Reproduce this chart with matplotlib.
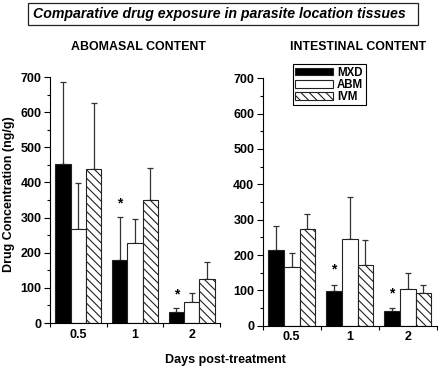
import matplotlib
matplotlib.use("Agg")
import matplotlib.pyplot as plt
import matplotlib.patches as mpatches
from matplotlib.ticker import MultipleLocator, FixedLocator, FixedFormatter
import numpy as np

plt.rcParams['font.family'] = ['Liberation Sans', 'DejaVu Sans']
plt.rcParams['hatch.linewidth'] = 0.8

days = ["0.5", "1", "2"]
series = ["MXD", "ABM", "IVM"]

# Abomasal content (mean, upper SD)
abo_mxd = [452, 180, 31]
abo_abm = [268, 227, 61]
abo_ivm = [438, 351, 125]
abo_mxd_sd = [235, 123, 12]
abo_abm_sd = [129, 70, 23]
abo_ivm_sd = [187, 90, 50]

# Intestinal content
int_mxd = [213, 98, 43]
int_abm = [165, 246, 104]
int_ivm = [273, 173, 93]
int_mxd_sd = [68, 16, 7]
int_abm_sd = [40, 119, 44]
int_ivm_sd = [43, 70, 21]

# significance markers (day index, y position)
abo_star_days = [1, 2]
abo_star_y = [340, 82]
int_star_days = [1, 2]
int_star_y = [160, 91]

W, H = 438, 369
fig = plt.figure(figsize=(W / 100, H / 100), dpi=100)

def fx(px):
    return px / W

def fy(py):
    return 1 - py / H

styles = [dict(facecolor='black', hatch=None),
          dict(facecolor='white', hatch=None),
          dict(facecolor='white', hatch='\\\\\\\\')]

def panel(rect, means, sds, star_days, star_y):
    ax = fig.add_axes(rect)
    x = np.arange(len(days)) + 0.5
    w = 0.27
    handles = []
    for k, (m, s) in enumerate(zip(means, sds)):
        pos = x + (k - 1) * w
        b = ax.bar(pos, m, width=w, edgecolor='#222222', linewidth=0.8,
                   label=series[k], zorder=2, **styles[k])
        handles.append(b)
        ax.errorbar(pos, m, yerr=[np.zeros(len(s)), s], fmt='none',
                    ecolor='#333333', elinewidth=0.9, capsize=2, capthick=0.9, zorder=1)
    for d, yv in zip(star_days, star_y):
        ax.text(x[d] - w, yv, '*', ha='center', va='center', fontsize=10,
                fontweight='bold')
    ax.set_xlim(0, 3)
    ax.set_ylim(0, 700)
    ax.spines['top'].set_visible(False)
    ax.spines['right'].set_visible(False)
    ax.yaxis.set_major_locator(MultipleLocator(100))
    ax.yaxis.set_minor_locator(MultipleLocator(50))
    ax.xaxis.set_major_locator(FixedLocator([0.5, 1.5, 2.5]))
    ax.xaxis.set_major_formatter(FixedFormatter(days))
    ax.xaxis.set_minor_locator(FixedLocator([0, 1, 2, 3]))
    ax.tick_params(axis='x', which='major', length=0, pad=4, labelsize=9)
    ax.tick_params(axis='x', which='minor', length=3, width=0.8)
    ax.tick_params(axis='y', which='major', length=4, width=0.8, labelsize=9, pad=2)
    ax.tick_params(axis='y', which='minor', length=2.5, width=0.8)
    for lab in ax.get_xticklabels() + ax.get_yticklabels():
        lab.set_fontweight('bold')
    return ax, handles

axL, hL = panel([fx(50), fy(323), fx(170), fy(77) - fy(323)],
                [abo_mxd, abo_abm, abo_ivm], [abo_mxd_sd, abo_abm_sd, abo_ivm_sd],
                abo_star_days, abo_star_y)
axR, hR = panel([fx(262.7), fy(325.7), fx(174), fy(78.3) - fy(325.7)],
                [int_mxd, int_abm, int_ivm], [int_mxd_sd, int_abm_sd, int_ivm_sd],
                int_star_days, int_star_y)

fig.text(fx(138), fy(47), "ABOMASAL CONTENT", ha='center', va='center',
         fontsize=8.9, fontweight='bold')
fig.text(fx(358), fy(47), "INTESTINAL CONTENT", ha='center', va='center',
         fontsize=8.9, fontweight='bold')

fig.text(fx(9), fy(194), "Drug Concentration (ng/g)", rotation=90, ha='center',
         va='center', fontsize=9, fontweight='bold')
fig.text(fx(225), fy(360), "Days post-treatment", ha='center', va='center',
         fontsize=9, fontweight='bold')

leg = axR.legend(handles=hR, loc='upper left',
                 bbox_to_anchor=(fx(292.7), fy(64.3)), bbox_transform=fig.transFigure,
                 prop={'weight': 'bold', 'size': 8.3}, frameon=True, fancybox=False,
                 edgecolor='black', framealpha=1, borderpad=0.2, labelspacing=0.02,
                 handlelength=3.3, handleheight=0.62, handletextpad=0.35, borderaxespad=0)
leg.get_frame().set_linewidth(0.8)

# title box
fig.patches.append(mpatches.Rectangle((fx(28), fy(25)), fx(390), fy(3) - fy(25),
                                      transform=fig.transFigure, facecolor='white',
                                      edgecolor='#222222', linewidth=0.9))
fig.text(fx(219), fy(14), "Comparative drug exposure in parasite location tissues",
         ha='center', va='center', fontsize=10.2, fontweight='bold', style='italic')

fig.savefig("out.png", dpi=100)
